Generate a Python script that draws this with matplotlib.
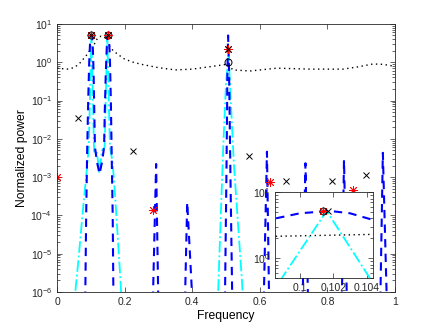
import matplotlib
matplotlib.use('Agg')
import matplotlib.pyplot as plt
import numpy as np
from matplotlib.ticker import FixedLocator, LogLocator, NullFormatter, FuncFormatter

plt.rcParams['font.family'] = ['Liberation Sans', 'DejaVu Sans']
plt.rcParams['mathtext.fontset'] = 'custom'
plt.rcParams['mathtext.rm'] = 'Liberation Sans'
plt.rcParams['mathtext.it'] = 'Liberation Sans:italic'

# smoothed spectrum (dotted black)
dot_f = [0.0, 0.03, 0.05, 0.065, 0.077, 0.089, 0.0985, 0.1044, 0.112, 0.12, 0.13, 0.14,
         0.148, 0.157, 0.166, 0.18, 0.2, 0.225, 0.25, 0.3, 0.35, 0.40, 0.45, 0.49, 0.505,
         0.52, 0.571, 0.65, 0.75, 0.846, 0.888, 0.935, 0.965, 1.0]
dot_p = [0.70, 0.66, 0.72, 0.9, 1.2, 1.6, 2.15, 2.3, 3.2, 4.3, 4.8, 4.6,
         3.5, 2.5, 2.0, 1.6, 1.2, 1.0, 0.88, 0.72, 0.63, 0.66, 0.76, 0.85, 0.9,
         0.63, 0.59, 0.70, 0.66, 0.66, 0.75, 0.90, 0.88, 0.78]

# fine periodogram (blue dashed)
blue_f = [0.0, 0.080, 0.0835, 0.086, 0.089, 0.092, 0.095, 0.0975, 0.0985, 0.100, 0.1018,
          0.103, 0.1044, 0.106, 0.108, 0.110, 0.112, 0.118, 0.1255, 0.133, 0.139, 0.141,
          0.144, 0.147, 0.149, 0.151, 0.153, 0.156, 0.159, 0.162, 0.1645, 0.1665, 0.170,
          0.280, 0.284, 0.293, 0.299, 0.303,
          0.375, 0.379, 0.385, 0.399, 0.403,
          0.492, 0.497, 0.501, 0.504, 0.506, 0.509, 0.513, 0.518, 0.522,
          0.608, 0.612, 0.621, 0.627, 0.631,
          0.723, 0.727, 0.735, 0.742, 0.746,
          0.839, 0.843, 0.849, 0.857, 0.861,
          0.953, 0.957, 0.964, 0.975, 0.979, 1.0]
blue_p = [1e-9, 1e-8, 1e-6, 1e-4, 5e-3, 0.1, 1.0, 3.2, 4.0, 4.8, 5.2,
          4.8, 3.8, 2.0, 0.5, 0.05, 6e-3, 2.5e-3, 1.2e-3, 2.5e-3, 6e-3, 0.05,
          0.5, 2.5, 4.6, 5.2, 4.6, 1.5, 0.1, 2e-3, 1e-4, 1e-6, 1e-8,
          1e-8, 1e-6, 2.2e-3, 1e-6, 1e-8,
          1e-8, 1e-6, 2.2e-4, 1e-6, 1e-8,
          1e-8, 1e-6, 1e-3, 0.5, 5.0, 0.5, 1e-3, 1e-6, 1e-8,
          1e-8, 1e-6, 4.6e-3, 1e-6, 1e-8,
          1e-8, 1e-6, 2.3e-3, 1e-6, 1e-8,
          1e-8, 1e-6, 2.8e-3, 1e-6, 1e-8,
          1e-8, 1e-6, 4.3e-3, 1e-6, 1e-8, 1e-9]

# coarse periodogram (cyan dash-dot)
cyan_f = [0.0, 0.0469, 0.0547, 0.0625, 0.0703, 0.0781, 0.0859, 0.0938, 0.1016, 0.1094,
          0.1172, 0.125, 0.1328, 0.1406, 0.1484, 0.1563, 0.1641, 0.1719, 0.1797, 0.1875,
          0.1953, 0.4688, 0.4766, 0.4844, 0.4922, 0.5, 0.5078, 0.5156, 0.5234, 0.5313,
          0.5391, 0.5469, 0.5547, 1.0]
cyan_p = [1e-9, 1e-7, 1.2e-6, 6e-6, 3.5e-5, 2e-4, 1e-3, 6e-3, 5.2, 4.6e-3,
          5e-3, 1.3e-3, 5e-3, 6e-3, 5.2, 6e-3, 2.5e-3, 3e-4, 2.5e-5, 2e-6,
          1e-7, 1e-8, 1e-6, 1e-4, 8e-3, 0.3, 1.5, 0.05, 2e-3, 2e-4,
          2e-5, 2e-6, 1e-7, 1e-9]

# estimates
star_f = [0.0, 0.1014, 0.151, 0.284, 0.506, 0.630, 0.876]
star_p = [1e-3, 5.2, 5.0, 1.4e-4, 2.2, 7.4e-4, 4.7e-4]
cross_f = [0.062, 0.1017, 0.151, 0.225, 0.506, 0.568, 0.678, 0.814, 0.914]
cross_p = [0.035, 5.2, 5.0, 4.8e-3, 2.2, 3.5e-3, 8e-4, 8e-4, 1.15e-3]
circ_f = [0.1014, 0.151, 0.506]
circ_p = [5.2, 5.0, 1.0]


def draw(ax):
    ax.semilogy(dot_f, dot_p, ':', color='k', lw=1.0, dashes=(1, 2.5))
    ax.semilogy(cyan_f, cyan_p, '-.', color=(0, 1, 1), lw=1.3)
    ax.semilogy(blue_f, blue_p, '--', color=(0, 0, 1), lw=1.5, dashes=(4, 3))
    ax.semilogy(circ_f, circ_p, 'o', mfc='none', mec='k', ms=5, mew=0.7)
    ax.semilogy(star_f, star_p, marker=(8, 2, 0), ls='none', color='r', ms=6.5, mew=0.6)
    ax.semilogy(cross_f, cross_p, 'x', color='k', ms=5, mew=0.7)


def style(ax):
    ax.tick_params(which='both', direction='in', top=True, right=True,
                   labelsize=7.5, width=0.5, colors='0.15')
    ax.tick_params(which='major', length=3.5)
    ax.tick_params(which='minor', length=2)
    for s in ax.spines.values():
        s.set_linewidth(0.6)
        s.set_color('0.15')


fig = plt.figure(figsize=(4.36, 3.28), dpi=100)
ax = fig.add_axes([0.131, 0.110, 0.775, 0.817])
draw(ax)
ax.set_xlim(0, 1)
ax.set_ylim(1e-6, 10)
ax.xaxis.set_major_locator(FixedLocator([0, 0.2, 0.4, 0.6, 0.8, 1.0]))
ax.xaxis.set_major_formatter(FuncFormatter(lambda v, p: '%g' % v))
ax.yaxis.set_major_locator(FixedLocator(10.0 ** np.arange(-6, 2)))
ax.yaxis.set_minor_locator(LogLocator(subs=np.arange(2, 10), numticks=20))
ax.yaxis.set_minor_formatter(NullFormatter())
style(ax)
ax.set_xlabel('Frequency', fontsize=8.7, labelpad=2)
ax.set_ylabel('Normalized power', fontsize=8.7, labelpad=2)

ins = fig.add_axes([0.631, 0.152, 0.225, 0.262])
draw(ins)
ins.set_xlim(0.0985, 0.1044)
ins.set_ylim(0.5, 10)
ins.xaxis.set_major_locator(FixedLocator([0.1, 0.102, 0.104]))
ins.xaxis.set_major_formatter(FuncFormatter(lambda v, p: '%g' % v))
ins.yaxis.set_major_locator(FixedLocator([1, 10]))
ins.yaxis.set_minor_locator(LogLocator(subs=np.arange(2, 10), numticks=20))
ins.yaxis.set_minor_formatter(NullFormatter())
style(ins)

fig.savefig('out.png', dpi=100)
